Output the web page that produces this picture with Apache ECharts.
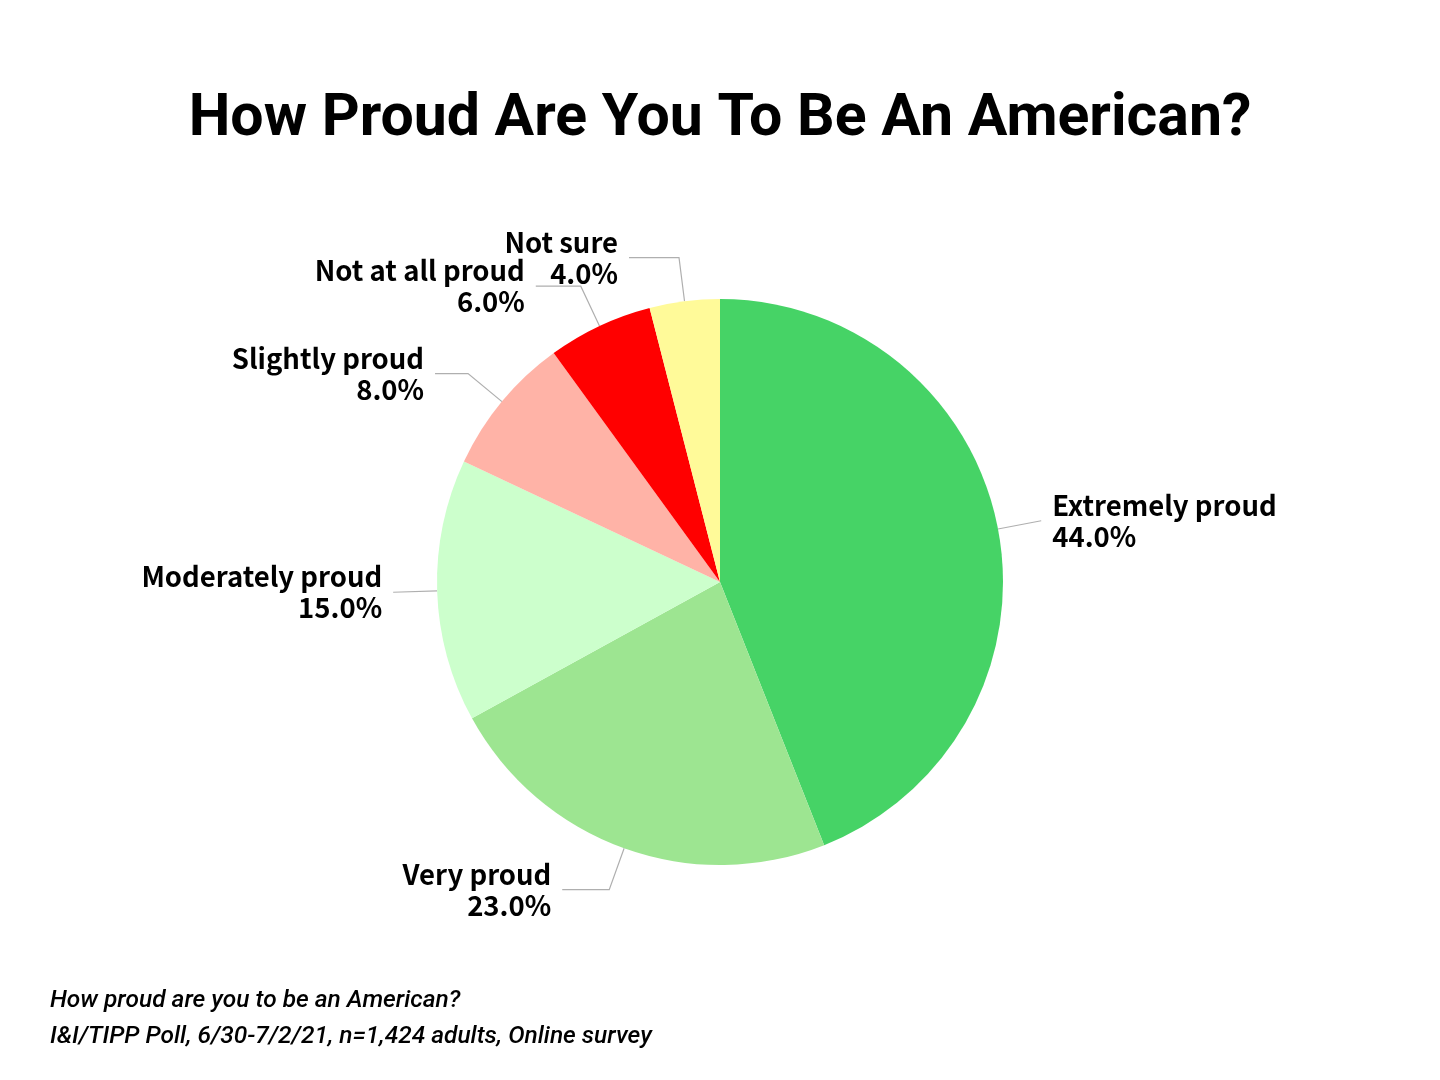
<!DOCTYPE html>
<html>
<head>
<meta charset="utf-8">
<script src="https://cdn.jsdelivr.net/npm/echarts@6/dist/echarts.min.js"></script>
<style>
  html, body { margin: 0; padding: 0; background: #fff; }
  #chart { width: 1440px; height: 1080px; }
</style>
</head>
<body>
<div id="chart"></div>
<script>
// 数据
const categories = ['Extremely proud', 'Very proud', 'Moderately proud', 'Slightly proud', 'Not at all proud', 'Not sure'];
const shares = [44.0, 23.0, 15.0, 8.0, 6.0, 4.0];
const sliceColors = ['#46D366', '#9DE591', '#CCFFCC', '#FFB3A7', '#FF0000', '#FFFA99'];
// 引导线水平段长度
const leaderTail = [0, 47, 0, 33, 45, 50];
const footnotes = [
  'How proud are you to be an American?',
  'I&I/TIPP Poll, 6/30-7/2/21, n=1,424 adults, Online survey'
];

const chart = echarts.init(document.getElementById('chart'));

chart.setOption({
  backgroundColor: '#ffffff',
  title: {
    text: 'How Proud Are You To Be An American?',
    left: 'center',
    top: 86,
    textStyle: {
      fontFamily: 'Roboto, sans-serif',
      fontWeight: 'bold',
      fontSize: 59,
      color: '#000'
    }
  },
  graphic: footnotes.map((t, i) => ({
    type: 'text',
    left: 50,
    top: 988 + i * 36,
    style: {
      text: t,
      fill: '#000',
      font: 'italic 500 24.5px Roboto, sans-serif'
    }
  })),
  series: [
    {
      type: 'pie',
      center: [720, 582],
      radius: 283,
      startAngle: 90,
      clockwise: true,
      avoidLabelOverlap: false,
      labelLayout: { hideOverlap: false },
      label: {
        show: true,
        formatter: p => p.name + '\n' + p.value.toFixed(1) + '%',
        fontFamily: '"Noto Sans CJK SC", sans-serif',
        fontWeight: 'bold',
        fontSize: 27.5,
        lineHeight: 31,
        color: '#000',
        distanceToLabelLine: 11
      },
      labelLine: {
        show: true,
        length: 44,
        length2: 0,
        lineStyle: { color: '#AFAFAF', width: 1.2 }
      },
      itemStyle: { borderWidth: 0 },
      emphasis: { disabled: true },
      data: categories.map((c, i) => ({
        name: c,
        value: shares[i],
        itemStyle: { color: sliceColors[i] },
        labelLine: { length2: leaderTail[i] }
      }))
    }
  ]
});
</script>
</body>
</html>
